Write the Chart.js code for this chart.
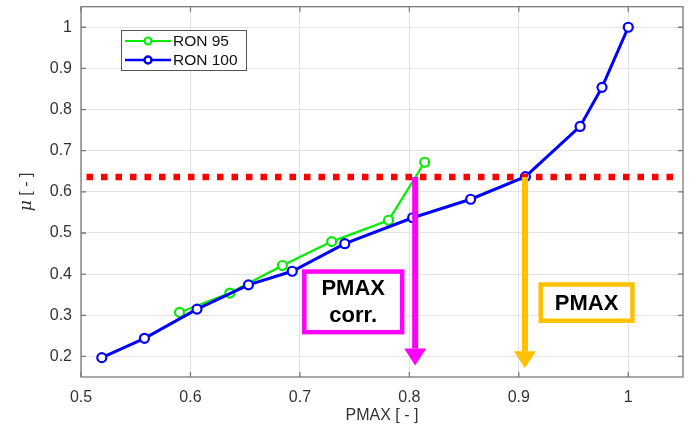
<!DOCTYPE html>
<html>
<head>
<meta charset="utf-8">
<script src="https://cdn.jsdelivr.net/npm/chart.js@4.4.1/dist/chart.umd.min.js"></script>
<style>
html,body{margin:0;padding:0;background:#fff;}
#wrap{width:691px;height:432px;position:relative;}
</style>
</head>
<body>
<div id="wrap"><canvas id="c" width="691" height="432"></canvas></div>
<script>
// ---- data ----
const ron95X = [0.590, 0.636, 0.684, 0.729, 0.781, 0.814];
const ron95Y = [0.307, 0.354, 0.421, 0.479, 0.531, 0.672];
const ron100X = [0.519, 0.558, 0.606, 0.653, 0.693, 0.741, 0.803, 0.856, 0.906, 0.956, 0.976, 1.000];
const ron100Y = [0.197, 0.244, 0.315, 0.374, 0.407, 0.474, 0.537, 0.582, 0.637, 0.759, 0.854, 1.000];
const thresholdY = 0.636;
const thresholdX = [0.505, 1.044];
const arrowX = [0.8053, 0.9056];
const arrowTipY = [0.178, 0.171];
const xTicks = [0.5, 0.6, 0.7, 0.8, 0.9, 1];
const yTicks = [0.2, 0.3, 0.4, 0.5, 0.6, 0.7, 0.8, 0.9, 1];
const seriesNames = ['RON 95', 'RON 100'];
const boxLabels = [['PMAX', 'corr.'], ['PMAX']];
const boxX = [[0.704, 0.7934], [0.920, 1.0038]];
const boxY = [[0.259, 0.4063], [0.2867, 0.3748]];
const xTitle = 'PMAX [ - ]';

const toPts = (xs, ys) => xs.map((x, i) => ({x: x, y: ys[i]}));

const FONT = '"Liberation Sans", Arial, sans-serif';
const FRAME = '#7a7a7a';
const GRID = '#e3e3e3';

const overlay = {
  id: 'overlay',
  afterDatasetsDraw(chart) {
    const ctx = chart.ctx, xs = chart.scales.x, ys = chart.scales.y;
    ctx.save();
    const cols = ['#ff00ff', '#ffc000'];
    arrowX.forEach((v, i) => {
      const px = xs.getPixelForValue(v);
      const y0 = ys.getPixelForValue(thresholdY);
      const yt = ys.getPixelForValue(arrowTipY[i]);
      ctx.fillStyle = cols[i];
      ctx.fillRect(px - 3, y0, 6, yt - 17 - y0);
      ctx.beginPath();
      ctx.moveTo(px - 11, yt - 17);
      ctx.lineTo(px + 11, yt - 17);
      ctx.lineTo(px, yt);
      ctx.closePath();
      ctx.fill();
    });
    boxX.forEach((bx, i) => {
      const l = xs.getPixelForValue(bx[0]), r = xs.getPixelForValue(bx[1]);
      const t = ys.getPixelForValue(boxY[i][1]), b = ys.getPixelForValue(boxY[i][0]);
      ctx.fillStyle = '#fff';
      ctx.fillRect(l, t, r - l, b - t);
      ctx.strokeStyle = cols[i];
      ctx.lineWidth = 4.5;
      ctx.strokeRect(l, t, r - l, b - t);
      ctx.fillStyle = '#000';
      ctx.font = 'bold 22px ' + FONT;
      ctx.textAlign = 'center';
      ctx.textBaseline = 'middle';
      const lines = boxLabels[i];
      const cx = (l + r) / 2, cy = (t + b) / 2, lh = 27;
      lines.forEach((s, k) => {
        ctx.fillText(s, cx, cy + (k - (lines.length - 1) / 2) * lh + 1);
      });
    });
    ctx.restore();
  },
  afterDraw(chart) {
    const ctx = chart.ctx, xs = chart.scales.x, ys = chart.scales.y, a = chart.chartArea;
    ctx.save();
    ctx.strokeStyle = FRAME;
    ctx.lineWidth = 1.3;
    ctx.strokeRect(a.left, a.top, a.right - a.left, a.bottom - a.top);
    ctx.beginPath();
    xTicks.forEach(v => {
      const p = xs.getPixelForValue(v);
      ctx.moveTo(p, a.bottom); ctx.lineTo(p, a.bottom - 5);
      ctx.moveTo(p, a.top); ctx.lineTo(p, a.top + 5);
    });
    yTicks.forEach(v => {
      const p = ys.getPixelForValue(v);
      ctx.moveTo(a.left, p); ctx.lineTo(a.left + 5, p);
      ctx.moveTo(a.right, p); ctx.lineTo(a.right - 5, p);
    });
    ctx.stroke();
    // legend
    const lx = 121, ly = 30, lw = 125, lh = 40;
    ctx.fillStyle = '#fff';
    ctx.fillRect(lx, ly, lw, lh);
    ctx.strokeStyle = '#555';
    ctx.lineWidth = 1;
    ctx.strokeRect(lx + 0.5, ly + 0.5, lw, lh);
    const lcols = ['#00ee00', '#0000ff'];
    const lws = [2.2, 2.5];
    seriesNames.forEach((n, i) => {
      const y = ly + 11 + i * 19;
      ctx.strokeStyle = lcols[i];
      ctx.lineWidth = lws[i];
      ctx.beginPath(); ctx.moveTo(lx + 4, y); ctx.lineTo(lx + 50, y); ctx.stroke();
      ctx.fillStyle = '#fff';
      ctx.beginPath(); ctx.arc(lx + 27, y, 3.5, 0, Math.PI * 2); ctx.fill(); ctx.stroke();
      ctx.fillStyle = '#111';
      ctx.font = '15.5px ' + FONT;
      ctx.textAlign = 'left';
      ctx.textBaseline = 'middle';
      ctx.fillText(n, lx + 52, y + 1);
    });
    // axis titles
    ctx.fillStyle = '#333';
    ctx.font = '16px ' + FONT;
    ctx.textAlign = 'center';
    ctx.textBaseline = 'middle';
    ctx.fillText(xTitle, (a.left + a.right) / 2, 416);
    ctx.translate(27, (a.top + a.bottom) / 2);
    ctx.rotate(-Math.PI / 2);
    const mu = '\u03bc', rest = ' [ - ]';
    ctx.font = '16px ' + FONT;
    const wRest = ctx.measureText(rest).width;
    ctx.font = 'italic 17px "DejaVu Serif", serif';
    const wMu = ctx.measureText(mu).width;
    const start = -(wMu + wRest) / 2;
    ctx.textAlign = 'left';
    ctx.fillText(mu, start, 0);
    ctx.font = '16px ' + FONT;
    ctx.fillText(rest, start + wMu, 0);
    ctx.restore();
  }
};

new Chart(document.getElementById('c'), {
  type: 'scatter',
  data: {
    datasets: [
      {
        label: seriesNames[1],
        data: toPts(ron100X, ron100Y),
        showLine: true,
        borderColor: '#0000ff',
        borderWidth: 3,
        pointRadius: 4.5,
        pointBorderWidth: 2.2,
        pointBorderColor: '#0000ff',
        pointBackgroundColor: '#ffffff',
        order: 1
      },
      {
        label: seriesNames[0],
        data: toPts(ron95X, ron95Y),
        showLine: true,
        borderColor: '#00ee00',
        borderWidth: 2.2,
        pointRadius: 4.5,
        pointBorderWidth: 2.2,
        pointBorderColor: '#00ee00',
        pointBackgroundColor: '#ffffff',
        order: 2
      },
      {
        label: 'threshold',
        data: thresholdX.map(x => ({x: x, y: thresholdY})),
        showLine: true,
        borderColor: '#ff0000',
        borderWidth: 6.5,
        borderDash: [6.5, 8],
        borderCapStyle: 'butt',
        pointRadius: 0,
        order: 0
      }
    ]
  },
  options: {
    responsive: false,
    animation: false,
    devicePixelRatio: 1,
    layout: {padding: {left: 0, right: 8, top: 6, bottom: 0}},
    plugins: {legend: {display: false}, tooltip: {enabled: false}},
    scales: {
      x: {
        type: 'linear',
        min: 0.5, max: 1.05,
        afterFit: s => { s.height = 55; s.paddingLeft = 0; s.paddingRight = 0; },
        afterBuildTicks: s => { s.ticks = xTicks.map(v => ({value: v})); },
        grid: {color: GRID, drawTicks: false},
        border: {display: false},
        ticks: {
          padding: 11,
          color: '#333',
          font: {family: FONT, size: 16},
          callback: v => String(v)
        }
      },
      y: {
        type: 'linear',
        min: 0.15, max: 1.05,
        afterFit: s => { s.width = 81; s.paddingTop = 0; s.paddingBottom = 0; },
        afterBuildTicks: s => { s.ticks = yTicks.map(v => ({value: v})); },
        grid: {color: GRID, drawTicks: false},
        border: {display: false},
        ticks: {
          padding: 9,
          color: '#333',
          font: {family: FONT, size: 16},
          callback: v => String(v)
        }
      }
    }
  },
  plugins: [overlay]
});
</script>
</body>
</html>
